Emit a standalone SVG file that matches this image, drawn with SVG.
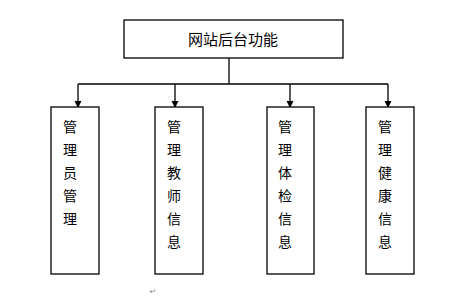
<svg xmlns="http://www.w3.org/2000/svg" width="463" height="297" viewBox="0 0 463 297">
<style>
.box{fill:#fff;stroke:#000;stroke-width:1.3}
.t{font-family:"Noto Sans CJK SC","Liberation Sans",sans-serif;font-size:14px;fill:#000;text-anchor:middle}
.ln{stroke:#000;stroke-width:1.3;fill:none}
</style>
<defs>
<marker id="ah" markerWidth="7" markerHeight="8" refX="6" refY="3.5" orient="auto" markerUnits="userSpaceOnUse">
<path d="M0,0 L7,3.5 L0,7 z" fill="#000"/>
</marker>
</defs>
<rect width="463" height="297" fill="#fff"/>
<g id="connectors">
<line class="ln" x1="229" y1="58" x2="229" y2="84" stroke="#555"/>
<line class="ln" x1="78" y1="84" x2="388" y2="84"/>
<line class="ln" x1="78" y1="84" x2="78" y2="107" marker-end="url(#ah)"/>
<line class="ln" x1="175" y1="84" x2="175" y2="107" marker-end="url(#ah)"/>
<line class="ln" x1="290" y1="84" x2="290" y2="107" marker-end="url(#ah)"/>
<line class="ln" x1="388" y1="84" x2="388" y2="107" marker-end="url(#ah)"/>
</g>
<g id="root">
<rect class="box" x="124" y="20" width="219" height="38"/>
<text class="t" x="233" y="45" style="font-size:15px">网站后台功能</text>
</g>
<g id="n1">
<rect class="box" x="51" y="107" width="48" height="167"/>
<text class="t" x="70" y="132">管</text>
<text class="t" x="70" y="155">理</text>
<text class="t" x="70" y="178">员</text>
<text class="t" x="70" y="201">管</text>
<text class="t" x="70" y="224">理</text>
</g>
<g id="n2">
<rect class="box" x="155" y="107" width="48" height="167"/>
<text class="t" x="174" y="132">管</text>
<text class="t" x="174" y="155">理</text>
<text class="t" x="174" y="178">教</text>
<text class="t" x="174" y="201">师</text>
<text class="t" x="174" y="224">信</text>
<text class="t" x="174" y="247">息</text>
</g>
<g id="n3">
<rect class="box" x="267" y="107" width="47" height="167"/>
<text class="t" x="285" y="132">管</text>
<text class="t" x="285" y="155">理</text>
<text class="t" x="285" y="178">体</text>
<text class="t" x="285" y="201">检</text>
<text class="t" x="285" y="224">信</text>
<text class="t" x="285" y="247">息</text>
</g>
<g id="n4">
<rect class="box" x="366" y="107" width="48" height="167"/>
<text class="t" x="385" y="132">管</text>
<text class="t" x="385" y="155">理</text>
<text class="t" x="385" y="178">健</text>
<text class="t" x="385" y="201">康</text>
<text class="t" x="385" y="224">信</text>
<text class="t" x="385" y="247">息</text>
</g>
<text x="153" y="294" style="font-family:'DejaVu Sans',sans-serif;font-size:8px;fill:#888;text-anchor:middle">↵</text>
</svg>
